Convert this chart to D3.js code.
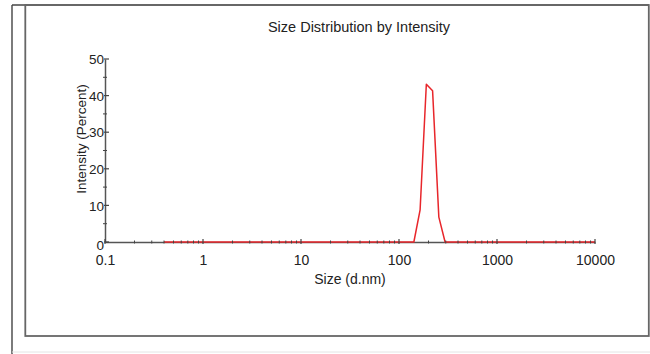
<!DOCTYPE html>
<html>
<head>
<meta charset="utf-8">
<script src="https://cdn.jsdelivr.net/npm/d3@7"></script>
<style>
  body { margin: 0; background: #fff; }
  svg { display: block; font-family: "Liberation Sans", Arial, sans-serif; }
</style>
</head>
<body>
<div id="chart"></div>
<script>
// size classes (d.nm), 70 log-spaced bins
const sizes = [
  0.4, 0.4632, 0.5365, 0.6213, 0.7195, 0.8332, 0.9649, 1.117, 1.294, 1.499,
  1.736, 2.01, 2.328, 2.696, 3.122, 3.615, 4.187, 4.849, 5.615, 6.503,
  7.531, 8.721, 10.1, 11.7, 13.54, 15.69, 18.17, 21.04, 24.36, 28.21,
  32.67, 37.84, 43.82, 50.75, 58.77, 68.06, 78.82, 91.28, 105.7, 122.4,
  141.8, 164.2, 190.1, 220.2, 255.0, 295.3, 342.0, 396.1, 458.7, 531.2,
  615.1, 712.4, 825.0, 955.4, 1106, 1281, 1484, 1718, 1990, 2305,
  2669, 3091, 3580, 4145, 4801, 5560, 6439, 7456, 8635, 10000,
];

// intensity (%) per size class
const intensity = [
  0, 0, 0, 0, 0, 0, 0, 0, 0, 0,
  0, 0, 0, 0, 0, 0, 0, 0, 0, 0,
  0, 0, 0, 0, 0, 0, 0, 0, 0, 0,
  0, 0, 0, 0, 0, 0, 0, 0, 0, 0,
  0, 8.8, 43.1, 41.3, 6.8, 0, 0, 0, 0, 0,
  0, 0, 0, 0, 0, 0, 0, 0, 0, 0,
  0, 0, 0, 0, 0, 0, 0, 0, 0, 0,
];

const xMajor = [0.1, 1, 10, 100, 1000, 10000];
const xMinor = [
  0.2, 0.3, 0.4, 0.5, 0.6, 0.7, 0.8, 0.9,
  2, 3, 4, 5, 6, 7, 8, 9,
  20, 30, 40, 50, 60, 70, 80, 90,
  200, 300, 400, 500, 600, 700, 800, 900,
  2000, 3000, 4000, 5000, 6000, 7000, 8000, 9000,
];
const yMajor = [0, 10, 20, 30, 40, 50];
const yMinor = [5, 15, 25, 35, 45];

const width = 650;
const height = 354;
const margin = { top: 59, right: 55, bottom: 112, left: 105 };

const svg = d3.select('#chart').append('svg')
  .attr('width', width)
  .attr('height', height)
  .attr('viewBox', [0, 0, width, height]);

/* FRAME */

svg.append('line')
  .attr('x1', 12).attr('x2', 12).attr('y1', 5).attr('y2', height)
  .attr('stroke', '#444').attr('stroke-width', 1.4);
svg.append('line')
  .attr('x1', 12).attr('x2', 649).attr('y1', 5).attr('y2', 5)
  .attr('stroke', '#444').attr('stroke-width', 1.4);
svg.append('rect')
  .attr('x', 25.3).attr('y', 5)
  .attr('width', 623.5).attr('height', 331)
  .attr('fill', 'none').attr('stroke', '#666').attr('stroke-width', 1.8);
svg.append('line')
  .attr('x1', 12).attr('x2', width).attr('y1', 352).attr('y2', 352)
  .attr('stroke', '#e4e4e4').attr('stroke-width', 1);

/* SCALES */

const x = d3.scaleLog()
  .domain([0.1, 10000])
  .range([margin.left, width - margin.right]);

const y = d3.scaleLinear()
  .domain([0, 50])
  .range([height - margin.bottom, margin.top]);

const y0 = y(0);

/* AXES */

const xAxis = (g) => g
  .attr('transform', `translate(0, ${y0})`)
  .call(d3.axisBottom(x)
    .tickValues(xMajor)
    .tickFormat((d) => String(d))
    .tickSize(0)
    .tickPadding(13))
  .call(() => g.select('.domain').attr('stroke', '#555').attr('stroke-width', 1.5))
  .call(() => g.selectAll('.tick text')
    .attr('font-size', 14)
    .attr('fill', '#222'));

const yAxis = (g) => g
  .attr('transform', `translate(${margin.left}, 0)`)
  .call(d3.axisLeft(y)
    .tickValues(yMajor)
    .tickSize(0)
    .tickPadding(1))
  .call(() => g.select('.domain').attr('stroke', '#555').attr('stroke-width', 1.5))
  .call(() => g.selectAll('.tick text')
    .attr('font-size', 13.5)
    .attr('fill', '#222')
    .attr('dy', (d) => (d === 0 ? '0.55em' : '0.35em')));

svg.append('g').call(xAxis);
svg.append('g').call(yAxis);

/* DATA LINE */

const line = d3.line()
  .x((d, i) => x(sizes[i]))
  .y((d) => y(d));

svg.append('path')
  .datum(intensity)
  .attr('fill', 'none')
  .attr('stroke', '#e8262b')
  .attr('stroke-width', 1.5)
  .attr('stroke-linejoin', 'round')
  .attr('d', line);

/* TICK MARKS (drawn over the line) */

const ticks = svg.append('g').attr('stroke', '#444');

ticks.selectAll('.xmaj')
  .data(xMajor)
  .join('line')
  .attr('x1', (d) => x(d)).attr('x2', (d) => x(d))
  .attr('y1', y0 - 3).attr('y2', y0 + 2)
  .attr('stroke-width', 1.2);

ticks.selectAll('.xmin')
  .data(xMinor)
  .join('line')
  .attr('x1', (d) => x(d)).attr('x2', (d) => x(d))
  .attr('y1', y0 - 1.5).attr('y2', y0 + 1.5)
  .attr('stroke-width', 1);

ticks.selectAll('.ymaj')
  .data(yMajor)
  .join('line')
  .attr('x1', margin.left - 1).attr('x2', margin.left + 4)
  .attr('y1', (d) => y(d)).attr('y2', (d) => y(d))
  .attr('stroke-width', 1.2);

ticks.selectAll('.ymin')
  .data(yMinor)
  .join('line')
  .attr('x1', margin.left - 2).attr('x2', margin.left + 2)
  .attr('y1', (d) => y(d)).attr('y2', (d) => y(d))
  .attr('stroke-width', 1);

/* TITLES */

svg.append('text')
  .attr('x', 359)
  .attr('y', 32)
  .attr('text-anchor', 'middle')
  .attr('font-size', 14.5)
  .attr('fill', '#222')
  .text('Size Distribution by Intensity');

svg.append('text')
  .attr('x', (x(0.1) + x(10000)) / 2)
  .attr('y', 284)
  .attr('text-anchor', 'middle')
  .attr('font-size', 14)
  .attr('fill', '#222')
  .text('Size (d.nm)');

svg.append('text')
  .attr('transform', 'translate(86, 139) rotate(-90)')
  .attr('text-anchor', 'middle')
  .attr('font-size', 13.5)
  .attr('fill', '#222')
  .text('Intensity (Percent)');
</script>
</body>
</html>
